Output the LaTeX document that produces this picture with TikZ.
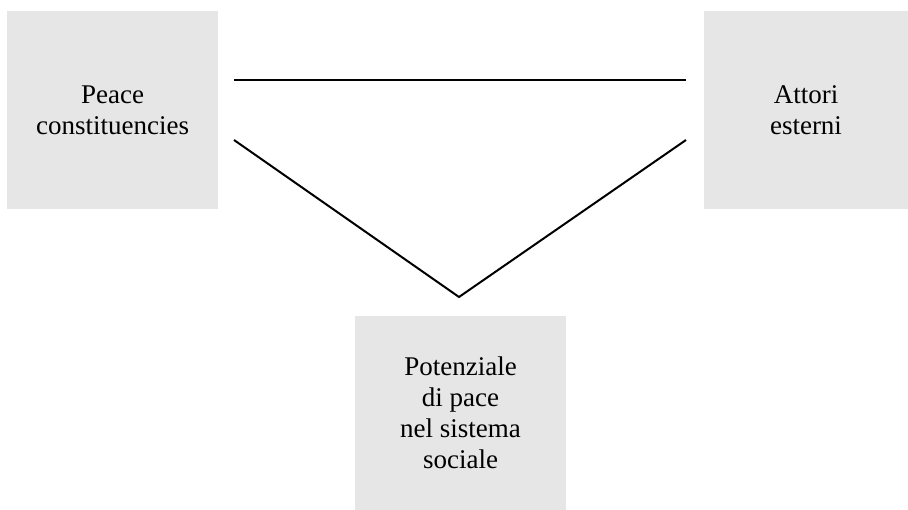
\documentclass[tikz,border=0pt]{standalone}
\usepackage{fontspec}
\setmainfont{Liberation Serif}
\definecolor{boxgrey}{HTML}{E6E6E6}
\begin{document}
\begin{tikzpicture}[x=1pt,y=1pt,
  greybox/.style={fill=boxgrey, draw=none, align=center, inner sep=0pt,
    font=\fontsize{27}{31}\selectfont},
  link/.style={draw=black, line width=2pt}]
\useasboundingbox (0,0) rectangle (908,-510);
\node[greybox, minimum width=211pt, minimum height=198pt] (pc) at (112.5,-110) {Peace\\constituencies};
\node[greybox, minimum width=204pt, minimum height=198pt] (ae) at (806,-110) {Attori\\esterni};
\node[greybox, minimum width=211pt, minimum height=194pt] (pp) at (460.5,-413) {Potenziale\\di pace\\nel sistema\\sociale};
\coordinate (h1) at (234,-80);
\coordinate (h2) at (686,-80);
\coordinate (v1) at (234,-140);
\coordinate (v2) at (459,-297);
\coordinate (v3) at (686,-140);
\draw[link] (h1) -- (h2);
\draw[link] (v1) -- (v2) -- (v3);
\end{tikzpicture}
\end{document}
